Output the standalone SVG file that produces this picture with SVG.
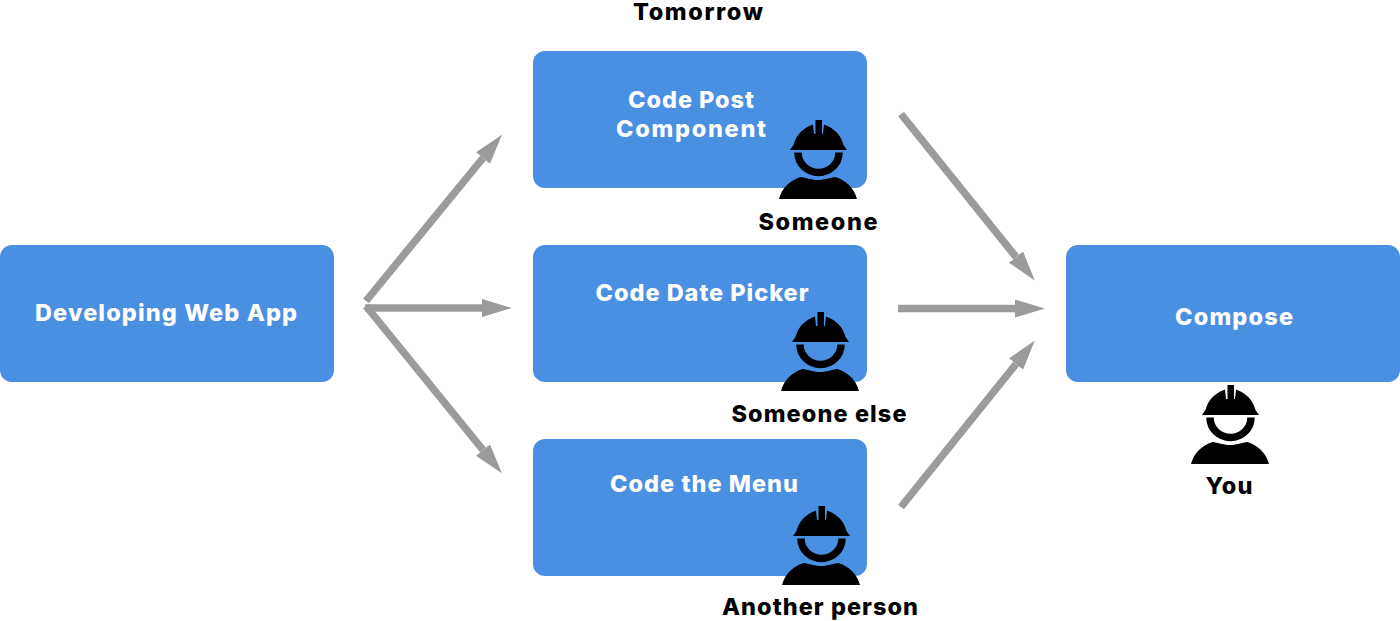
<svg xmlns="http://www.w3.org/2000/svg" xmlns:xlink="http://www.w3.org/1999/xlink" width="1400" height="621" viewBox="0 0 1400 621">
<style>
.box{fill:#4a90e2}
.t{font-family:Inter,"Open Sans","Liberation Sans",sans-serif;font-weight:800;font-size:23.5px;text-anchor:middle}
.w{fill:#fff}
.k{fill:#000}
.c{stroke:#9b9b9b;stroke-width:7.500;fill:none;marker-end:url(#a)}
</style>
<defs>
<marker id="a" markerUnits="userSpaceOnUse" markerWidth="32" markerHeight="20" refX="0" refY="9" orient="auto"><path d="M0 0L30 9L0 18Z" fill="#9b9b9b"/></marker>
<symbol id="worker" overflow="visible" viewBox="0 0 80 80" width="80" height="80">
<path fill="#000" d="M12 30L15.500 25C18 15 25 8 35 4.500L36 14H37.500V0H44V14H45L46 4.500C56 8 63 15 65.500 25L69 30Z"/>
<path fill="none" stroke="#000" stroke-width="7.500" d="M20 32.500A20.500 20 0 0 0 61 32.500"/>
<path fill="#000" d="M1 79C4 68 12 60 23 57C30 58 34 60 40 60C46 60 50 58 57 57C68 60 76 68 79 79Z"/>
</symbol>
</defs>
<g id="connectors">
<line class="c" x1="366" y1="301" x2="483" y2="158"/>
<line class="c" x1="365" y1="308" x2="482" y2="308"/>
<line class="c" x1="366" y1="306" x2="483" y2="450"/>
<line class="c" x1="901" y1="114" x2="1016" y2="257"/>
<line class="c" x1="898" y1="308.500" x2="1015" y2="308.500"/>
<line class="c" x1="901" y1="507" x2="1016" y2="364"/>
</g>
<g id="n1"><rect class="box" x="0" y="245" width="334" height="137" rx="12"/><text class="t w" x="166" y="321" textLength="262" lengthAdjust="spacing">Developing Web App</text></g>
<g id="n2"><rect class="box" x="533" y="51" width="334" height="137" rx="12"/><text class="t w" x="691" y="108" textLength="126" lengthAdjust="spacing">Code Post</text><text class="t w" x="691" y="137" textLength="150" lengthAdjust="spacing">Component</text><use xlink:href="#worker" href="#worker" x="778" y="120"/><text class="t k" x="818" y="230" textLength="119" lengthAdjust="spacing">Someone</text></g>
<g id="n3"><rect class="box" x="533" y="245" width="334" height="137" rx="12"/><text class="t w" x="702" y="301" textLength="213" lengthAdjust="spacing">Code Date Picker</text><use xlink:href="#worker" href="#worker" x="780" y="312"/><text class="t k" x="819" y="422" textLength="175" lengthAdjust="spacing">Someone else</text></g>
<g id="n4"><rect class="box" x="533" y="439" width="334" height="137" rx="12"/><text class="t w" x="704" y="492" textLength="188" lengthAdjust="spacing">Code the Menu</text><use xlink:href="#worker" href="#worker" x="781" y="506"/><text class="t k" x="820" y="615" textLength="196" lengthAdjust="spacing">Another person</text></g>
<g id="n5"><rect class="box" x="1066" y="245" width="334" height="137" rx="12"/><text class="t w" x="1234" y="325" textLength="118" lengthAdjust="spacing">Compose</text><use xlink:href="#worker" href="#worker" x="1190" y="385"/><text class="t k" x="1229" y="494" textLength="47" lengthAdjust="spacing">You</text></g>
<g id="label"><text class="t k" x="698" y="20" textLength="130" lengthAdjust="spacing">Tomorrow</text></g>
</svg>
